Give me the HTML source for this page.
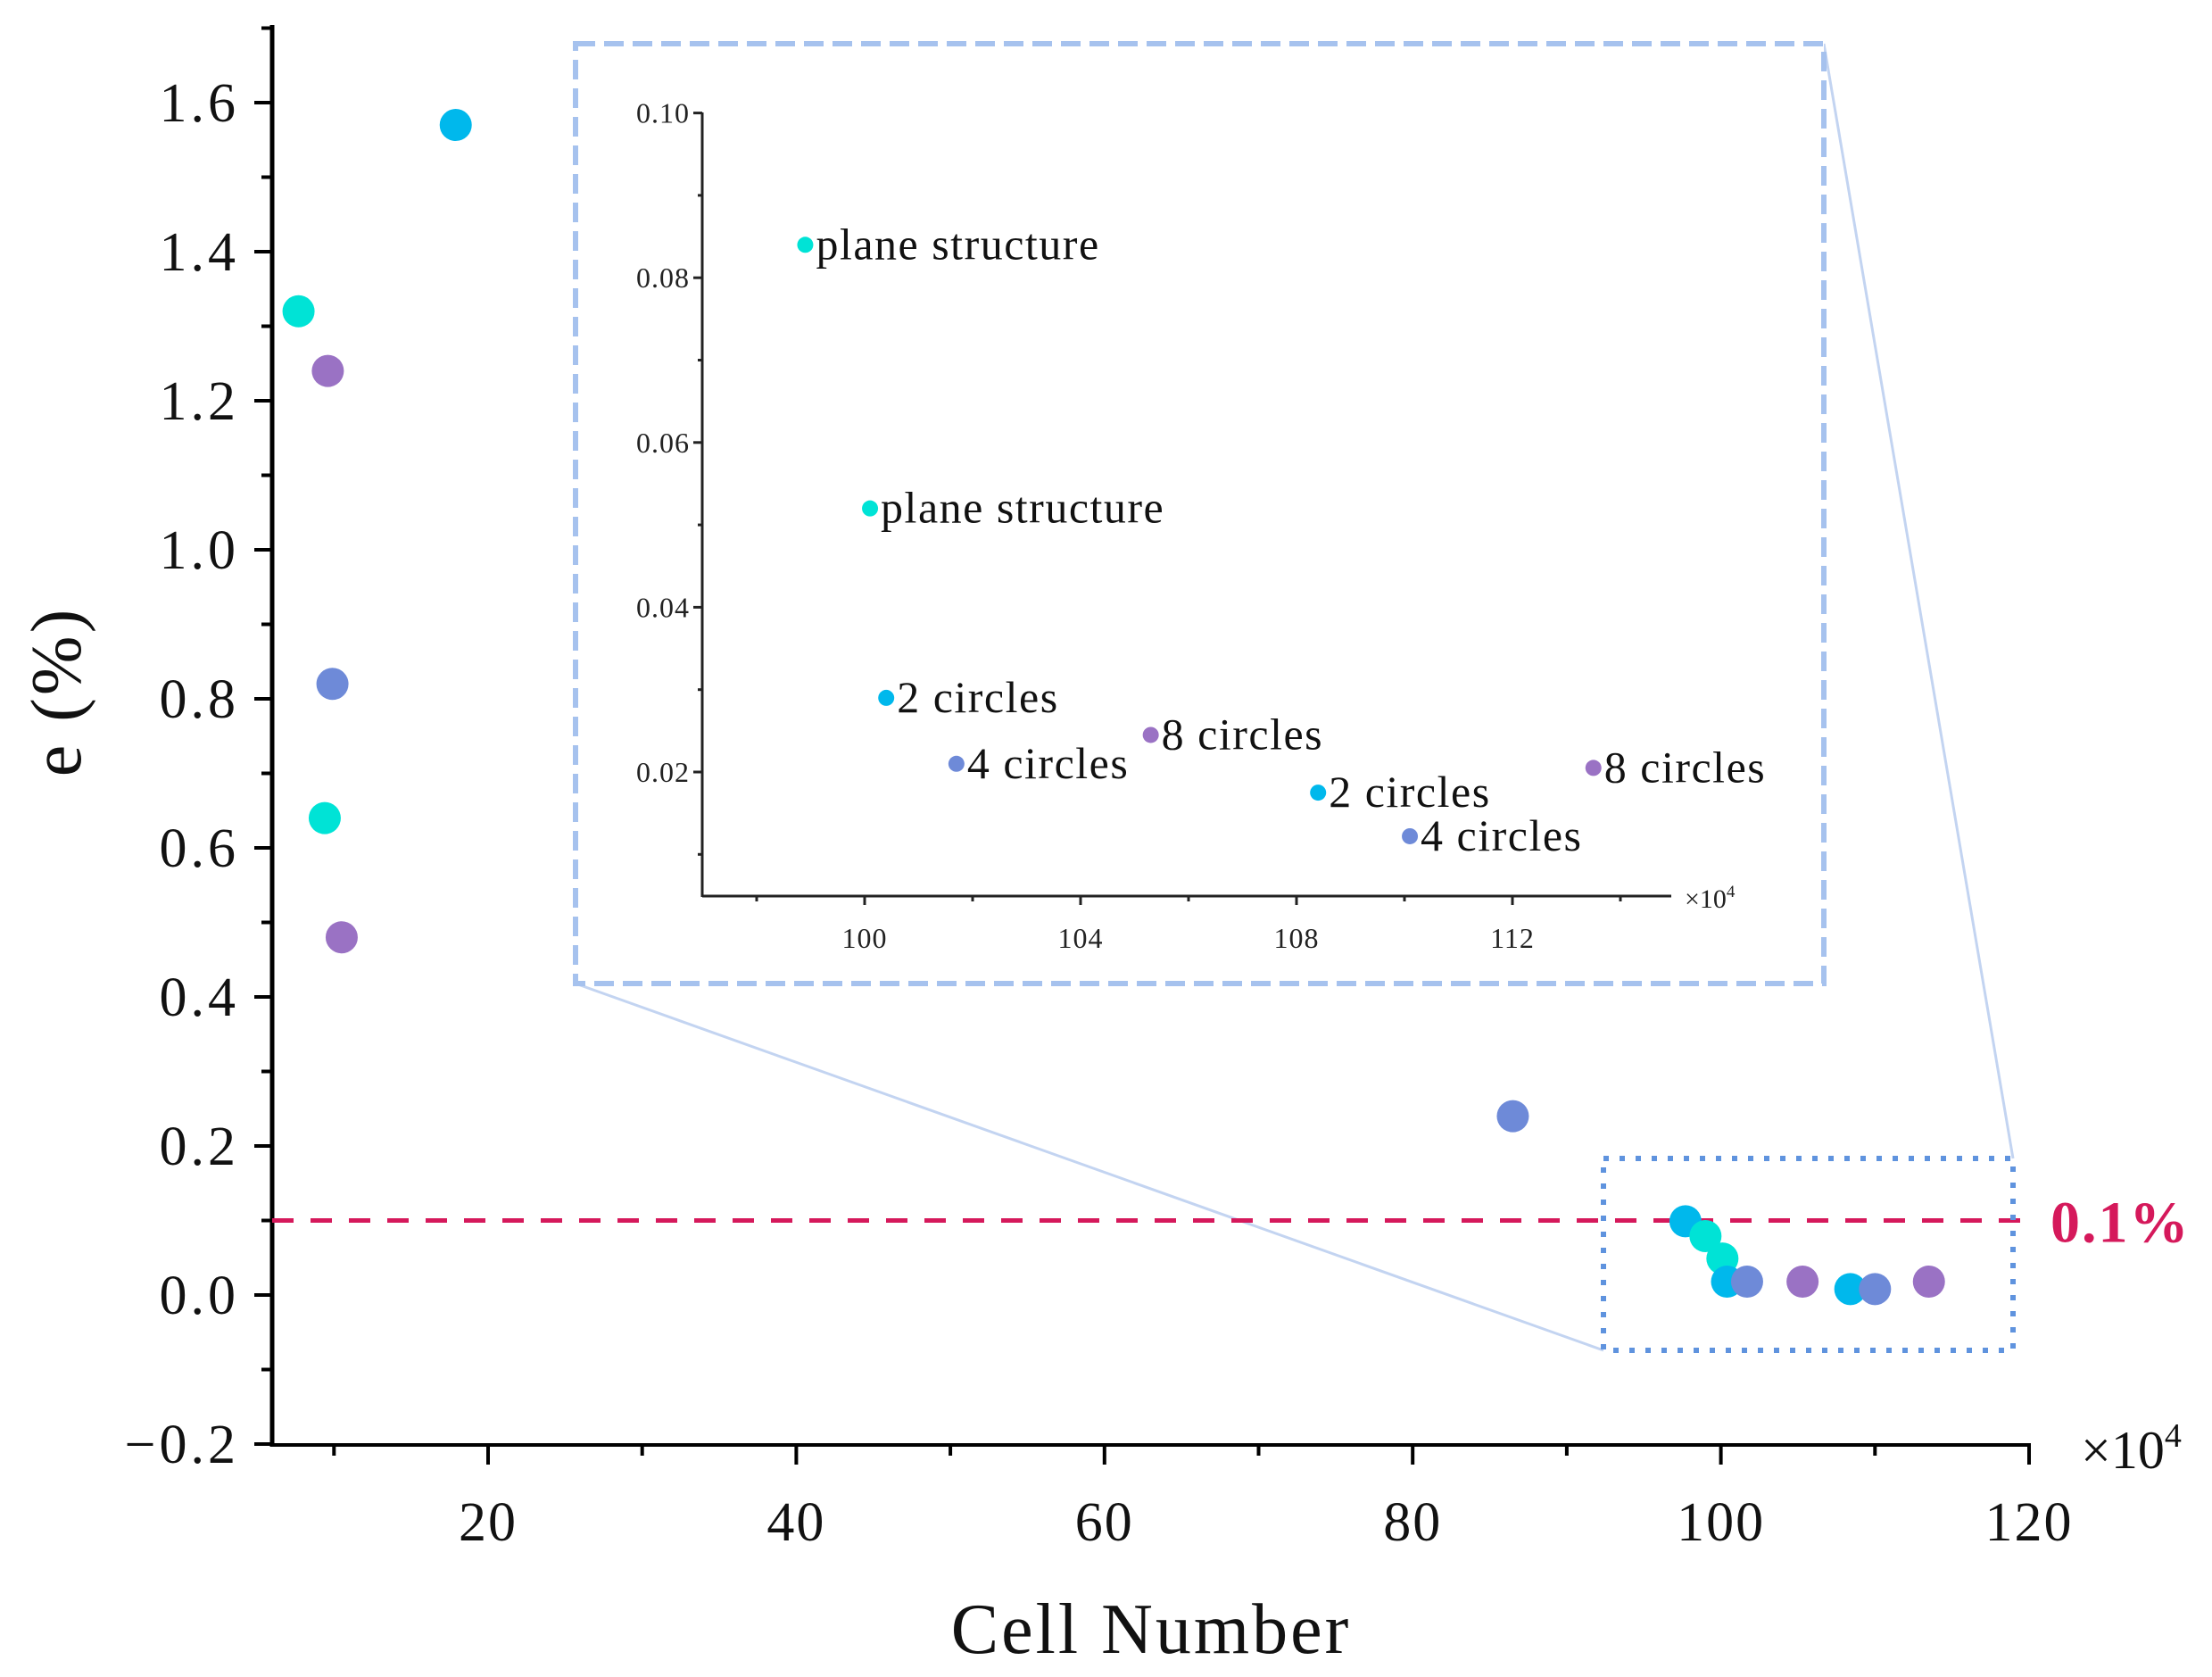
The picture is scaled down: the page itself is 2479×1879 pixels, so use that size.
<!DOCTYPE html>
<html><head><meta charset="utf-8"><style>
html,body{margin:0;padding:0;background:#fff;}
svg{display:block;font-family:"Liberation Serif",serif;}
</style></head><body>
<svg id="chart" width="2479" height="1879" viewBox="0 0 2479 1879" xmlns="http://www.w3.org/2000/svg"></svg>
<script>
// main chart data
const mainX = [17.9, 7.7, 9.6, 9.9, 9.4, 10.5, 86.5, 97.7, 99.0, 100.1, 100.4, 101.7, 105.3, 108.4, 110.0, 113.5];
const mainY = [1.57, 1.32, 1.24, 0.82, 0.64, 0.48, 0.24, 0.099, 0.079, 0.049, 0.018, 0.018, 0.018, 0.008, 0.008, 0.018];
const mainSeries = ['c2','plane','c8','c4','plane','c8','c4','c2','plane','plane','c2','c4','c8','c2','c4','c8'];
const yTicks = [-0.2, 0.0, 0.2, 0.4, 0.6, 0.8, 1.0, 1.2, 1.4, 1.6];
const yTickLabels = ['\u22120.2','0.0','0.2','0.4','0.6','0.8','1.0','1.2','1.4','1.6'];
const xTicks = [20, 40, 60, 80, 100, 120];
const threshold = 0.1;
// inset data
const insetX = [98.9, 100.1, 100.4, 101.7, 105.3, 108.4, 110.1, 113.5];
const insetY = [0.084, 0.052, 0.029, 0.021, 0.0245, 0.0175, 0.0122, 0.0205];
const insetSeries = ['plane','plane','c2','c4','c8','c2','c4','c8'];
const insetLabels = ['plane structure','plane structure','2 circles','4 circles','8 circles','2 circles','4 circles','8 circles'];
const insetYTicks = [0.02, 0.04, 0.06, 0.08, 0.10];
const insetYTickLabels = ['0.02','0.04','0.06','0.08','0.10'];
const insetXTicks = [100, 104, 108, 112];

const colors = {c2:'#00b8ec', plane:'#00e3d6', c4:'#6e8ad8', c8:'#9a72c4'};
const NS = 'http://www.w3.org/2000/svg';
const svg = document.getElementById('chart');
function el(tag, attrs, parent){
  const e = document.createElementNS(NS, tag);
  for (const k in attrs) e.setAttribute(k, attrs[k]);
  (parent||svg).appendChild(e);
  return e;
}
const X0=305, XR=2274, YB=1619, YT=28;
const sx = v => 547 + (v-20)*17.27;
const sy = v => 1451 - v*835;

let e;
e = el('line',{x1:645,y1:1102,x2:1797,y2:1513,stroke:'#c3d4f1','stroke-width':3});


e = el('line',{x1:2044,y1:49,x2:2256,y2:1298,stroke:'#c3d4f1','stroke-width':3});


e = el('rect',{x:645,y:49,width:1399,height:1053,fill:'#fff',stroke:'#a6c2ee','stroke-width':6,'stroke-dasharray':'22 10'});



e = el('line',{x1:X0,y1:YT,x2:X0,y2:YB+2,stroke:'#000','stroke-width':5});


e = el('line',{x1:X0-2,y1:YB,x2:XR+2,y2:YB,stroke:'#000','stroke-width':4});


for (let v=-0.2; v<=1.71; v+=0.1){
  const major = Math.abs(Math.round(v*10)%2)===0;
  e = el('line',{x1:X0-(major?20:12),y1:sy(v),x2:X0,y2:sy(v),stroke:'#000','stroke-width':4});
  
  
}
yTicks.forEach((v,i)=>{
  e = el('text',{x:268,y:sy(v)+21,'text-anchor':'end','font-size':62,'letter-spacing':4,fill:'#111'});
  e.textContent = yTickLabels[i];
  
  
});
for (let v=10; v<=120; v+=10){
  const major = v%20===0;
  e = el('line',{x1:sx(v),y1:YB,x2:sx(v),y2:YB+(major?22:12),stroke:'#000','stroke-width':4});
  
  
}
xTicks.forEach(v=>{
  e = el('text',{x:sx(v),y:1726,'text-anchor':'middle','font-size':62,'letter-spacing':2,fill:'#111'});
  e.textContent = String(v);
  
  
});
e = el('text',{x:2332,y:1645,'font-size':60,fill:'#111'});
e.innerHTML = '×10<tspan font-size="38" dy="-24">4</tspan>';


e = el('text',{x:1290,y:1852,'text-anchor':'middle','font-size':80,'letter-spacing':3,fill:'#111'});
e.textContent = 'Cell Number';


e = el('text',{x:0,y:0,'text-anchor':'middle','font-size':80,'letter-spacing':3,fill:'#111',transform:'translate(90,775) rotate(-90)'});
e.textContent = 'e (%)';



e = el('line',{x1:X0,y1:sy(threshold),x2:2278,y2:sy(threshold),stroke:'#d5195b','stroke-width':5,'stroke-dasharray':'24 19'});


e = el('text',{x:2298,y:sy(threshold)+24,'font-size':66,'letter-spacing':2,fill:'#d5195b','font-weight':'bold'});
e.textContent = '0.1%';



e = el('rect',{x:1797,y:1298,width:459,height:215,fill:'none',stroke:'#5f93de','stroke-width':6,'stroke-dasharray':'6 12'});



mainX.forEach((x,i)=>{
  const c = el('circle',{cx:sx(x),cy:sy(mainY[i]),r:18,fill:colors[mainSeries[i]]});
  
  
});

const IX0=787, IXR=1873, IYB=1004;
const ix = v => 969 + (v-100)*60.5;
const iy = v => 865 - (v-0.02)*9230;
e = el('line',{x1:IX0,y1:126,x2:IX0,y2:IYB+1,stroke:'#222','stroke-width':3});


e = el('line',{x1:IX0,y1:IYB,x2:IXR,y2:IYB,stroke:'#222','stroke-width':3});


for (let k=1;k<=10;k++){
  const v=k/100, major=k%2===0;
  e = el('line',{x1:IX0-(major?10:5),y1:iy(v),x2:IX0,y2:iy(v),stroke:'#222','stroke-width':3});
  
  
}
insetYTicks.forEach((v,i)=>{
  e = el('text',{x:IX0-14,y:iy(v)+11,'text-anchor':'end','font-size':32,'letter-spacing':1,fill:'#222'});
  e.textContent = insetYTickLabels[i];
  
  
});
for (let v=98; v<=114; v+=2){
  e = el('line',{x1:ix(v),y1:IYB,x2:ix(v),y2:IYB+(v%4===0?10:6),stroke:'#222','stroke-width':3});
  
  
}
insetXTicks.forEach(v=>{
  e = el('text',{x:ix(v),y:1062,'text-anchor':'middle','font-size':32,'letter-spacing':1,fill:'#222'});
  e.textContent = String(v);
  
  
});
e = el('text',{x:1888,y:1017,'font-size':30,fill:'#222'});
e.innerHTML = '×10<tspan font-size="19" dy="-12">4</tspan>';


insetX.forEach((x,i)=>{
  const c = el('circle',{cx:ix(x),cy:iy(insetY[i]),r:9,fill:colors[insetSeries[i]]});
  
  
  const t = el('text',{x:ix(x)+12,y:iy(insetY[i])+16,'font-size':50,'letter-spacing':1.5,fill:'#111'});
  t.textContent = insetLabels[i];
  
  
});
</script>
</body></html>
